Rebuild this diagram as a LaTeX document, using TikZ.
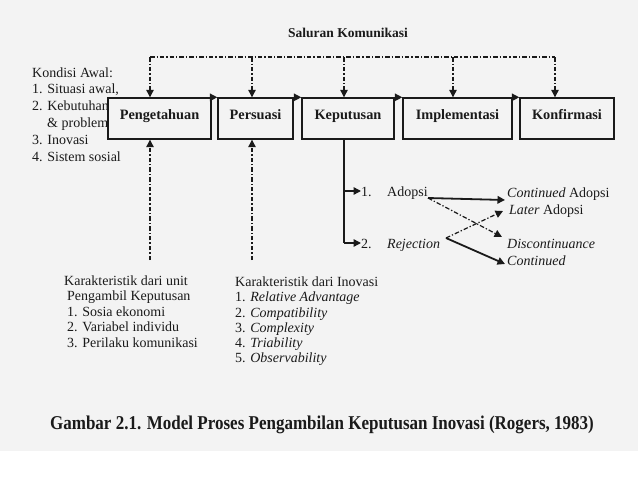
\documentclass[tikz,border=0pt]{standalone}
\usepackage{fontspec}
\usepackage{graphicx}
\setmainfont{Liberation Serif}
\usetikzlibrary{arrows.meta}
\definecolor{bg}{HTML}{F3F3F3}
\definecolor{ink}{HTML}{1A1A1A}
\begin{document}
\begin{tikzpicture}[x=1pt,y=-1pt,
  txt/.style={font=\fontsize{14}{16}\selectfont, inner sep=0pt, anchor=base west, text=ink},
  box/.style={draw=ink, line width=1.4pt, fill=bg, inner sep=0pt, minimum height=41pt,
    text height=9pt, text depth=7pt,
    font=\fontsize{14.3}{16}\selectfont\bfseries, text=ink},
  dd/.style={draw=ink, line width=1.2pt, dash pattern=on 4.5pt off 2pt on 1.3pt off 2pt},
  tip/.style={-{Triangle[length=7.5pt,width=7.5pt]}},
  solid line/.style={draw=ink, line width=1.4pt},
]
\useasboundingbox (0,0) rectangle (638,479);
\fill[bg] (0,0) rectangle (638,451);
\fill[white] (0,451) rectangle (638,479);

% title
\node[font=\fontsize{13.5}{16}\selectfont\bfseries, text=ink, inner sep=0pt] (title) at (348,33) {Saluran Komunikasi};

% Kondisi awal
\node[txt] (k1) at (32,77) {Kondisi Awal:};
\node[txt] (k2) at (32,93) {1. Situasi awal,};
\node[txt] (k3) at (32,110) {2. Kebutuhan};
\node[txt] (k4) at (47,127) {\& problem};
\node[txt] (k5) at (32,144) {3. Inovasi};
\node[txt] (k6) at (32,161) {4. Sistem sosial};

% boxes
\node[box, minimum width=103pt] (peng) at (159.5,118.5) {Pengetahuan};
\node[box, minimum width=75pt] (pers) at (255.5,118.5) {Persuasi};
\node[box, minimum width=92pt] (kep) at (348,118.5) {Keputusan};
\node[box, minimum width=109pt] (impl) at (457.5,118.5) {Implementasi};
\node[box, minimum width=94pt] (konf) at (567,118.5) {Konfirmasi};

% flow arrows
\draw[solid line, tip] ([xshift=-11pt]peng.north east) -- (pers.north west);
\draw[solid line, tip] ([xshift=-8pt]pers.north east) -- (kep.north west);
\draw[solid line, tip] ([xshift=-8pt]kep.north east) -- (impl.north west);
\draw[solid line, tip] ([xshift=-8pt]impl.north east) -- (konf.north west);

% communication channel
\coordinate (c1) at (150,57);
\coordinate (c2) at (252,57);
\coordinate (c3) at (344,57);
\coordinate (c4) at (453,57);
\coordinate (c5) at (555,57);
\draw[dd] (c1) -- (c5);
\draw[dd, tip] (c1) -- (c1 |- peng.north);
\draw[dd, tip] (c2) -- (c2 |- pers.north);
\draw[dd, tip] (c3) -- (c3 |- kep.north);
\draw[dd, tip] (c4) -- (c4 |- impl.north);
\draw[dd, tip] (c5) -- (c5 |- konf.north);

% lower inputs
\coordinate (b1) at (150,260);
\coordinate (b2) at (252,260);
\draw[dd, tip] (b1) -- (b1 |- peng.south);
\draw[dd, tip] (b2) -- (b2 |- pers.south);

% decision branches
\node[txt] (n1) at (361,196) {1.};
\node[txt] (adopsi) at (387,196) {Adopsi};
\node[txt] (n2) at (361,248) {2.};
\node[txt] (rej) at (387,248) {\itshape Rejection};
\coordinate (kd) at (344,191);
\coordinate (kr) at (344,243);
\draw[solid line] (c3 |- kep.south) -- (kr);
\draw[solid line, tip] (kd) -- (kd -| n1.west);
\draw[solid line, tip] (kr) -- (kr -| n2.west);

% outcomes
\node[txt] (ca) at (507,197) {{\itshape Continued} Adopsi};
\node[txt] (la) at (509,214) {{\itshape Later} Adopsi};
\node[txt] (di) at (507,248) {\itshape Discontinuance};
\node[txt] (co) at (507,265) {\itshape Continued};

\coordinate (a0) at (428,198);
\coordinate (r0) at (446,238);
\coordinate (tca) at (505,200);
\coordinate (tdi) at (502,237);
\coordinate (tla) at (503,211);
\coordinate (tco) at (505,264);
\draw[solid line, line width=1.8pt, tip] (a0) -- (tca);
\draw[dd, tip] (a0) -- (tdi);
\draw[dd, tip] (r0) -- (tla);
\draw[solid line, line width=1.8pt, tip] (r0) -- (tco);

% characteristics blocks
\node[txt] (u1) at (64,285) {Karakteristik dari unit};
\node[txt] (u2) at (67,300) {Pengambil Keputusan};
\node[txt] (u3) at (67,316) {1. Sosia ekonomi};
\node[txt] (u4) at (67,331) {2. Variabel individu};
\node[txt] (u5) at (67,347) {3. Perilaku komunikasi};

\node[txt] (i1) at (235,286) {Karakteristik dari Inovasi};
\node[txt] (i2) at (235,301) {1. {\itshape Relative Advantage}};
\node[txt] (i3) at (235,317) {2. {\itshape Compatibility}};
\node[txt] (i4) at (235,332) {3. {\itshape Complexity}};
\node[txt] (i5) at (235,347) {4. {\itshape Triability}};
\node[txt] (i6) at (235,362) {5. {\itshape Observability}};

% caption
\node[font=\fontsize{17}{20}\selectfont\bfseries, text=ink, inner sep=0pt] (cap) at (322,425)
  {\scalebox{1}[1.15]{Gambar 2.1. Model Proses Pengambilan Keputusan Inovasi (Rogers, 1983)}};
\end{tikzpicture}
\end{document}
